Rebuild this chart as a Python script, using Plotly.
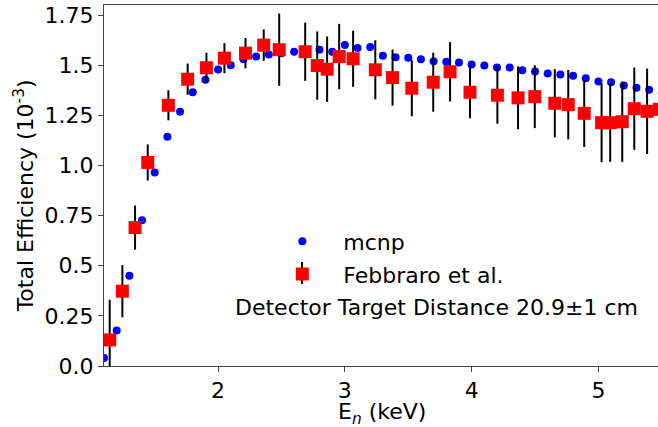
import plotly.graph_objects as go

# mcnp simulation
mcnp_E = [1.1, 1.2, 1.3, 1.4, 1.5, 1.6, 1.7, 1.8, 1.9, 2.0, 2.1, 2.2, 2.3, 2.4, 2.5,
          2.6, 2.7, 2.8, 2.9, 3.0, 3.1, 3.2, 3.3, 3.4, 3.5, 3.6, 3.7, 3.8, 3.9, 4.0,
          4.1, 4.2, 4.3, 4.4, 4.5, 4.6, 4.7, 4.8, 4.9, 5.0, 5.1, 5.2, 5.3, 5.4, 5.5]
mcnp_eff = [0.04, 0.177, 0.45, 0.727, 0.965, 1.143, 1.268, 1.365, 1.427, 1.478, 1.50,
            1.53, 1.543, 1.553, 1.56, 1.567, 1.57, 1.577, 1.567, 1.60, 1.585, 1.59,
            1.547, 1.54, 1.537, 1.53, 1.52, 1.517, 1.513, 1.503, 1.498, 1.488, 1.488,
            1.475, 1.468, 1.458, 1.453, 1.447, 1.435, 1.418, 1.415, 1.398, 1.387,
            1.377, 1.36]

# Febbraro et al. measurement
feb_E = [1.145, 1.245, 1.345, 1.445, 1.608, 1.76, 1.908, 2.05, 2.216, 2.36, 2.482,
         2.687, 2.782, 2.86, 2.955, 3.065, 3.24, 3.376, 3.528, 3.697, 3.83, 3.987,
         4.203, 4.366, 4.498, 4.656, 4.762, 4.888, 5.025, 5.093, 5.188, 5.283, 5.384,
         5.48]
feb_eff = [0.13, 0.373, 0.69, 1.015, 1.30, 1.43, 1.487, 1.535, 1.56, 1.60, 1.577,
           1.567, 1.498, 1.48, 1.543, 1.532, 1.477, 1.438, 1.385, 1.415, 1.467, 1.365,
           1.35, 1.337, 1.343, 1.31, 1.303, 1.26, 1.213, 1.213, 1.218, 1.283, 1.27,
           1.28]
feb_err = [0.2, 0.13, 0.11, 0.09, 0.075, 0.078, 0.075, 0.075, 0.076, 0.078, 0.18,
           0.145, 0.17, 0.163, 0.163, 0.14, 0.147, 0.14, 0.14, 0.147, 0.148, 0.13,
           0.142, 0.157, 0.157, 0.17, 0.173, 0.168, 0.197, 0.195, 0.2, 0.205, 0.213,
           0.21]

y_tickvals = [0, 0.25, 0.5, 0.75, 1.0, 1.25, 1.5, 1.75]
y_ticktext = ["0.0", "0.25", "0.5", "0.75", "1.0", "1.25", "1.5", "1.75"]
x_tickvals = [2, 3, 4, 5]

FONT = "DejaVu Sans"
FS = 22

fig = go.Figure()
fig.add_trace(go.Scatter(
    x=mcnp_E, y=mcnp_eff, mode="markers", name="mcnp",
    marker=dict(color="#0000ff", size=8, symbol="circle", line=dict(width=0)),
    legendgroup="a",
))
fig.add_trace(go.Scatter(
    x=feb_E, y=feb_eff, mode="markers", name="Febbraro et al.",
    marker=dict(color="#ff0000", size=13, symbol="square", line=dict(width=0)),
    error_y=dict(type="data", array=feb_err, color="black", thickness=2, width=0),
    legendgroup="b",
))

# legend-handle error bar (decoration behind the legend square)
px2x = lambda px: (px - 104) / 554
py2y = lambda py: (366 - py) / 361

fig.update_layout(
    width=658, height=427,
    margin=dict(l=104, r=0, t=5, b=61),
    paper_bgcolor="white", plot_bgcolor="white",
    font=dict(family=FONT, size=FS, color="black"),
    showlegend=True,
    legend=dict(
        x=0.284, y=0.299, xanchor="left", yanchor="middle",
        bgcolor="rgba(0,0,0,0)", borderwidth=0,
        font=dict(family=FONT, size=FS, color="black"),
        itemwidth=72, tracegroupgap=1,
    ),
    xaxis=dict(
        range=[1.1, 5.47], tickvals=x_tickvals, ticks="outside", ticklen=5,
        tickcolor="#444", showline=True, linecolor="#444", linewidth=1,
        mirror=True, showgrid=False, zeroline=False,
        tickfont=dict(family=FONT, size=FS),
    ),
    yaxis=dict(
        range=[0, 1.8], tickvals=y_tickvals, ticktext=y_ticktext, ticks="outside",
        ticklen=5, tickcolor="#444", showline=True, linecolor="#444", linewidth=1,
        showgrid=False, zeroline=False, tickfont=dict(family=FONT, size=FS),
    ),
    shapes=[
        dict(type="line", xref="paper", yref="paper",
             x0=px2x(302), x1=px2x(302), y0=py2y(262), y1=py2y(284),
             line=dict(color="black", width=2), layer="below"),
    ],
    annotations=[
        dict(text="Detector Target Distance 20.9±1 cm", xref="paper", yref="paper",
             x=px2x(233), y=py2y(307.5), xanchor="left",
             yanchor="middle", showarrow=False, font=dict(family=FONT, size=FS)),
        dict(text="E<sub><i>n</i></sub> (keV)", xref="paper", yref="paper",
             x=px2x(381.5), y=py2y(413), xanchor="center",
             yanchor="middle", showarrow=False, font=dict(family=FONT, size=FS)),
        dict(text="Total Efficiency (10<sup>-3</sup>)", xref="paper", yref="paper",
             x=px2x(24), y=0.47, xanchor="center", yanchor="middle",
             textangle=-90, showarrow=False, font=dict(family=FONT, size=FS)),
    ],
)

fig.write_html(
    "out.html",
    config={"displayModeBar": False},
    post_script="document.body.style.margin='0px';document.body.style.padding='0px';",
)
